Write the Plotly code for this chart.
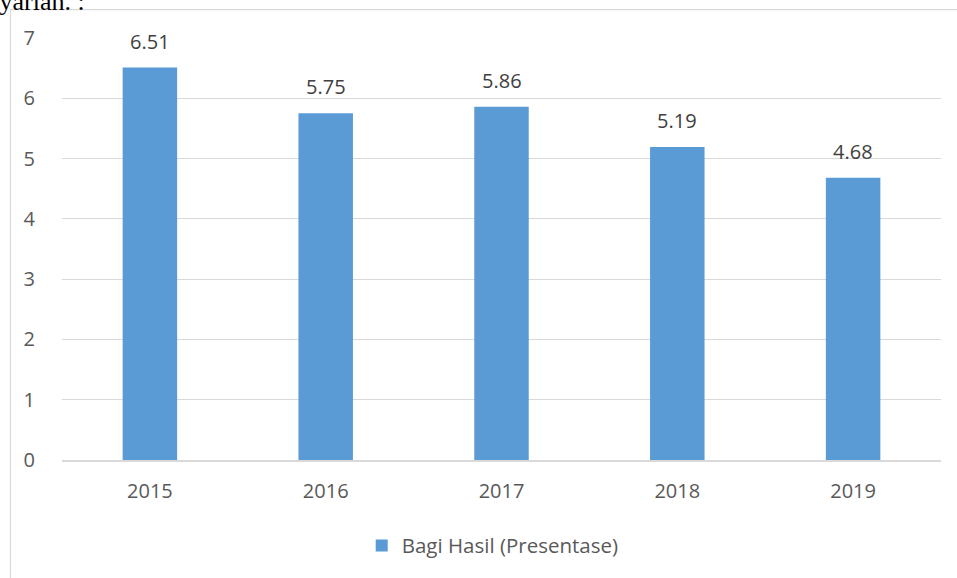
import plotly.graph_objects as go

years = ["2015", "2016", "2017", "2018", "2019"]
values = [6.51, 5.75, 5.86, 5.19, 4.68]
value_labels = ["6.51", "5.75", "5.86", "5.19", "4.68"]
y_ticks = [0, 1, 2, 3, 4, 5, 6, 7]
series_name = "Bagi Hasil (Presentase)"

font_family = "Open Sans, Liberation Sans, sans-serif"
text_color = "#595959"

fig = go.Figure()
fig.add_trace(go.Bar(
    x=years, y=values, name=series_name,
    marker=dict(color="#5b9bd5", line=dict(width=0)),
))

L, R, T, B = 62, 16, 38, 116
W, H = 957, 578
pw, ph = W - L - R, H - T - B

def px_to_paper_x(px):
    return (px - L) / pw

def py_to_paper_y(py):
    return (H - B - py) / ph

# value labels above bars (category index = position of the year in the list)
annotations = [dict(text=lab, x=i, y=v, xref="x", yref="y", yanchor="bottom",
                    yshift=11, showarrow=False,
                    font=dict(size=20, color="#404040", family=font_family))
               for i, (v, lab) in enumerate(zip(values, value_labels))]
annotations.append(dict(text="Syariah. :", xref="paper", yref="paper",
                        x=px_to_paper_x(-17), xanchor="left",
                        y=py_to_paper_y(1.5), yanchor="middle",
                        showarrow=False,
                        font=dict(size=26, color="black", family="Liberation Serif, serif")))

fig.update_layout(
    width=W, height=H,
    margin=dict(l=L, r=R, t=T, b=B),
    paper_bgcolor="white", plot_bgcolor="white",
    bargap=0.69,
    showlegend=True,
    legend=dict(orientation="h", x=0.49, xanchor="center", y=py_to_paper_y(548), yanchor="middle",
                font=dict(size=20.5, color=text_color, family=font_family)),
    xaxis=dict(type="category", range=[-0.5, len(years) - 0.5], showgrid=False, showline=True,
               linecolor="#d9d9d9", linewidth=1.5,
               ticks="outside", ticklen=12, tickcolor="rgba(0,0,0,0)",
               tickfont=dict(size=20, color=text_color, family=font_family)),
    yaxis=dict(range=[0, 7], tickvals=y_ticks, showgrid=True, gridcolor="#d9d9d9", gridwidth=1,
               zeroline=False, showline=False,
               ticks="outside", ticklen=22, tickcolor="rgba(0,0,0,0)",
               tickfont=dict(size=20, color=text_color, family=font_family)),
    shapes=[dict(type="rect", xref="paper", yref="paper",
                 x0=px_to_paper_x(10.5), x1=px_to_paper_x(1000),
                 y0=py_to_paper_y(700), y1=py_to_paper_y(9.5),
                 line=dict(color="#d9d9d9", width=1.2), fillcolor="rgba(0,0,0,0)", layer="below")],
    annotations=annotations,
)

fig.write_html("out.html")
